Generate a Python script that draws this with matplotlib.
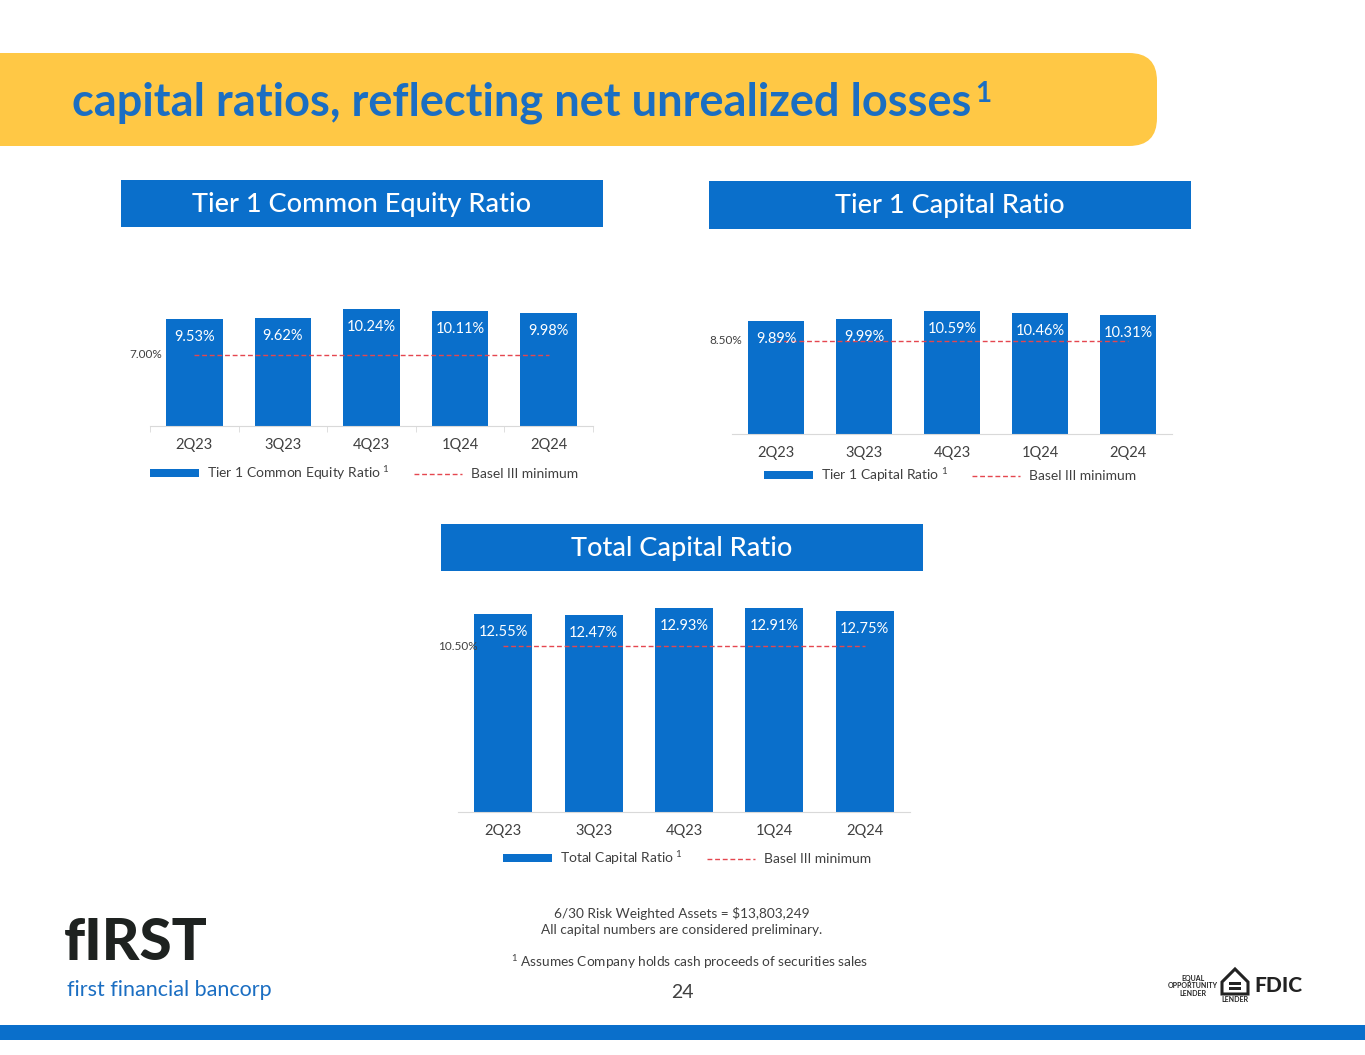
import matplotlib.pyplot as plt
from matplotlib.patches import FancyBboxPatch, Rectangle, Patch, Polygon
from matplotlib.lines import Line2D

plt.rcParams['font.family'] = ['Lato', 'DejaVu Sans']
plt.rcParams['mathtext.fontset'] = 'custom'
plt.rcParams['mathtext.rm'] = 'Lato'

quarters = ['2Q23', '3Q23', '4Q23', '1Q24', '2Q24']
tier1_common = [9.53, 9.62, 10.24, 10.11, 9.98]
tier1_capital = [9.89, 9.99, 10.59, 10.46, 10.31]
total_capital = [12.55, 12.47, 12.93, 12.91, 12.75]
basel_common = 7.00
basel_tier1 = 8.50
basel_total = 10.50

BLUE = '#0A6FCB'
RED = '#E5474F'
GREY = '#404040'
W, H = 1365, 1055

fig = plt.figure(figsize=(13.65, 10.55), dpi=100)

# background layer in pixel coordinates
bg = fig.add_axes([0, 0, 1, 1], zorder=0)
bg.set_xlim(0, W)
bg.set_ylim(H, 0)
bg.axis('off')

bg.add_patch(FancyBboxPatch((-60, 53), 1217, 93, boxstyle='round,pad=0,rounding_size=28',
                            facecolor='#FFC845', edgecolor='none'))
title = bg.text(72, 116, 'capital ratios, reflecting net unrealized losses', fontsize=32.5,
                weight='bold', color='#1B6EC2', va='baseline')
renderer = fig.canvas.get_renderer()
tb = title.get_window_extent(renderer)
bg.text(tb.x1 + 4, 102, '1', fontsize=20, weight='bold', color='#1B6EC2', va='baseline')

headers = [((121, 180, 482, 47), 'Tier 1 Common Equity Ratio'),
           ((709, 181, 482, 48), 'Tier 1 Capital Ratio'),
           ((441, 524, 482, 47), 'Total Capital Ratio')]
for (x0, y0, w, h), title_txt in headers:
    bg.add_patch(Rectangle((x0, y0), w, h, facecolor=BLUE, edgecolor='none'))
    bg.text(x0 + w / 2, y0 + h / 2 + 1, title_txt, fontsize=19.5, color='white',
            weight='medium', ha='center', va='center')


def bar_panel(rect, values, ylim, minimum, name, min_x, legend_xy, boundary_ticks=False):
    ax = fig.add_axes(rect, zorder=1)
    x = list(range(len(quarters)))
    ax.bar(x, values, width=0.64, color=BLUE, zorder=2)
    ax.plot([x[0], x[-1]], [minimum, minimum], color=RED, lw=1, ls=(0, (3.5, 2)), zorder=3)
    for xi, v in zip(x, values):
        ax.annotate(f'{v:.2f}%', (xi, v), xytext=(0, -13), textcoords='offset points',
                    ha='center', va='center', color='white', fontsize=10.5, zorder=4)
    ax.text(min_x, minimum, f'{minimum:.2f}%', ha='right', va='center', fontsize=8.5, color=GREY)
    ax.set_xlim(-0.5, 4.5)
    ax.set_ylim(*ylim)
    for s in ['top', 'left', 'right']:
        ax.spines[s].set_visible(False)
    ax.spines['bottom'].set_color('#D9D9D9')
    ax.set_yticks([])
    ax.set_xticks(x, quarters)
    ax.tick_params(axis='x', length=0, pad=9, labelsize=10.5, colors=GREY)
    if boundary_ticks:
        ax.set_xticks([i - 0.5 for i in range(len(quarters) + 1)], minor=True)
        ax.tick_params(axis='x', which='minor', length=4, color='#D9D9D9')
    ax.patch.set_alpha(0)
    handles = [Patch(facecolor=BLUE, edgecolor='none'),
               Line2D([], [], color=RED, lw=1, ls=(0, (3.5, 2)))]
    ax.legend(handles, [name + r'$^{\ 1}$', 'Basel III minimum'], loc='center',
              bbox_to_anchor=legend_xy, bbox_transform=bg.transData, ncol=2, frameon=False,
              fontsize=10, labelcolor=GREY, handlelength=3.5, handleheight=0.5,
              columnspacing=1.7, handletextpad=0.6)
    return ax


bar_panel([150 / W, 1 - 426 / H, 443 / W, 142 / H], tier1_common, (2, 12), basel_common,
          'Tier 1 Common Equity Ratio', -0.36, (364, 473), boundary_ticks=True)
bar_panel([732 / W, 1 - 434 / H, 440 / W, 143.5 / H], tier1_capital, (2, 12), basel_tier1,
          'Tier 1 Capital Ratio', -0.38, (950, 475))
bar_panel([458 / W, 1 - 812 / H, 452 / W, 213 / H], total_capital, (0, 13.5), basel_total,
          'Total Capital Ratio', -0.28, (687, 858))

# footer
bg.text(682, 914, '6/30 Risk Weighted Assets = $13,803,249', fontsize=9.8, color=GREY,
        ha='center', va='center')
bg.text(682, 930, 'All capital numbers are considered preliminary.', fontsize=9.8, color=GREY,
        ha='center', va='center')
bg.text(690, 962, '$^{1}$ Assumes Company holds cash proceeds of securities sales', fontsize=9.8,
        color=GREY, ha='center', va='center')
bg.text(682, 992, '24', fontsize=14, color=GREY, ha='center', va='center')

# logo
bg.text(64, 960, 'fIRST', fontsize=42, weight='black', color='#1E2220', va='baseline')
bg.text(67, 990, 'first financial bancorp', fontsize=15.5, color='#1B6EC2', va='center')

bg.text(1193, 986, 'EQUAL\nOPPORTUNITY\nLENDER', fontsize=5, weight='bold', color='#222222',
        ha='center', va='center', linespacing=1.0)
bg.add_patch(Polygon([(1222, 982), (1235, 969), (1248, 982), (1248, 994), (1222, 994)],
                     closed=True, facecolor='white', edgecolor='#222222', lw=2.2))
bg.add_patch(Rectangle((1229, 982), 12, 2.5, facecolor='#222222'))
bg.add_patch(Rectangle((1229, 987), 12, 2.5, facecolor='#222222'))
bg.text(1235, 999, 'LENDER', fontsize=5, weight='bold', color='#222222', ha='center', va='center')
bg.text(1278, 986, 'FDIC', fontsize=15, weight='black', color='#222222', ha='center', va='center')

bg.add_patch(Rectangle((0, 1025), W, 15, facecolor=BLUE, edgecolor='none'))

fig.savefig('out.png', dpi=100)
